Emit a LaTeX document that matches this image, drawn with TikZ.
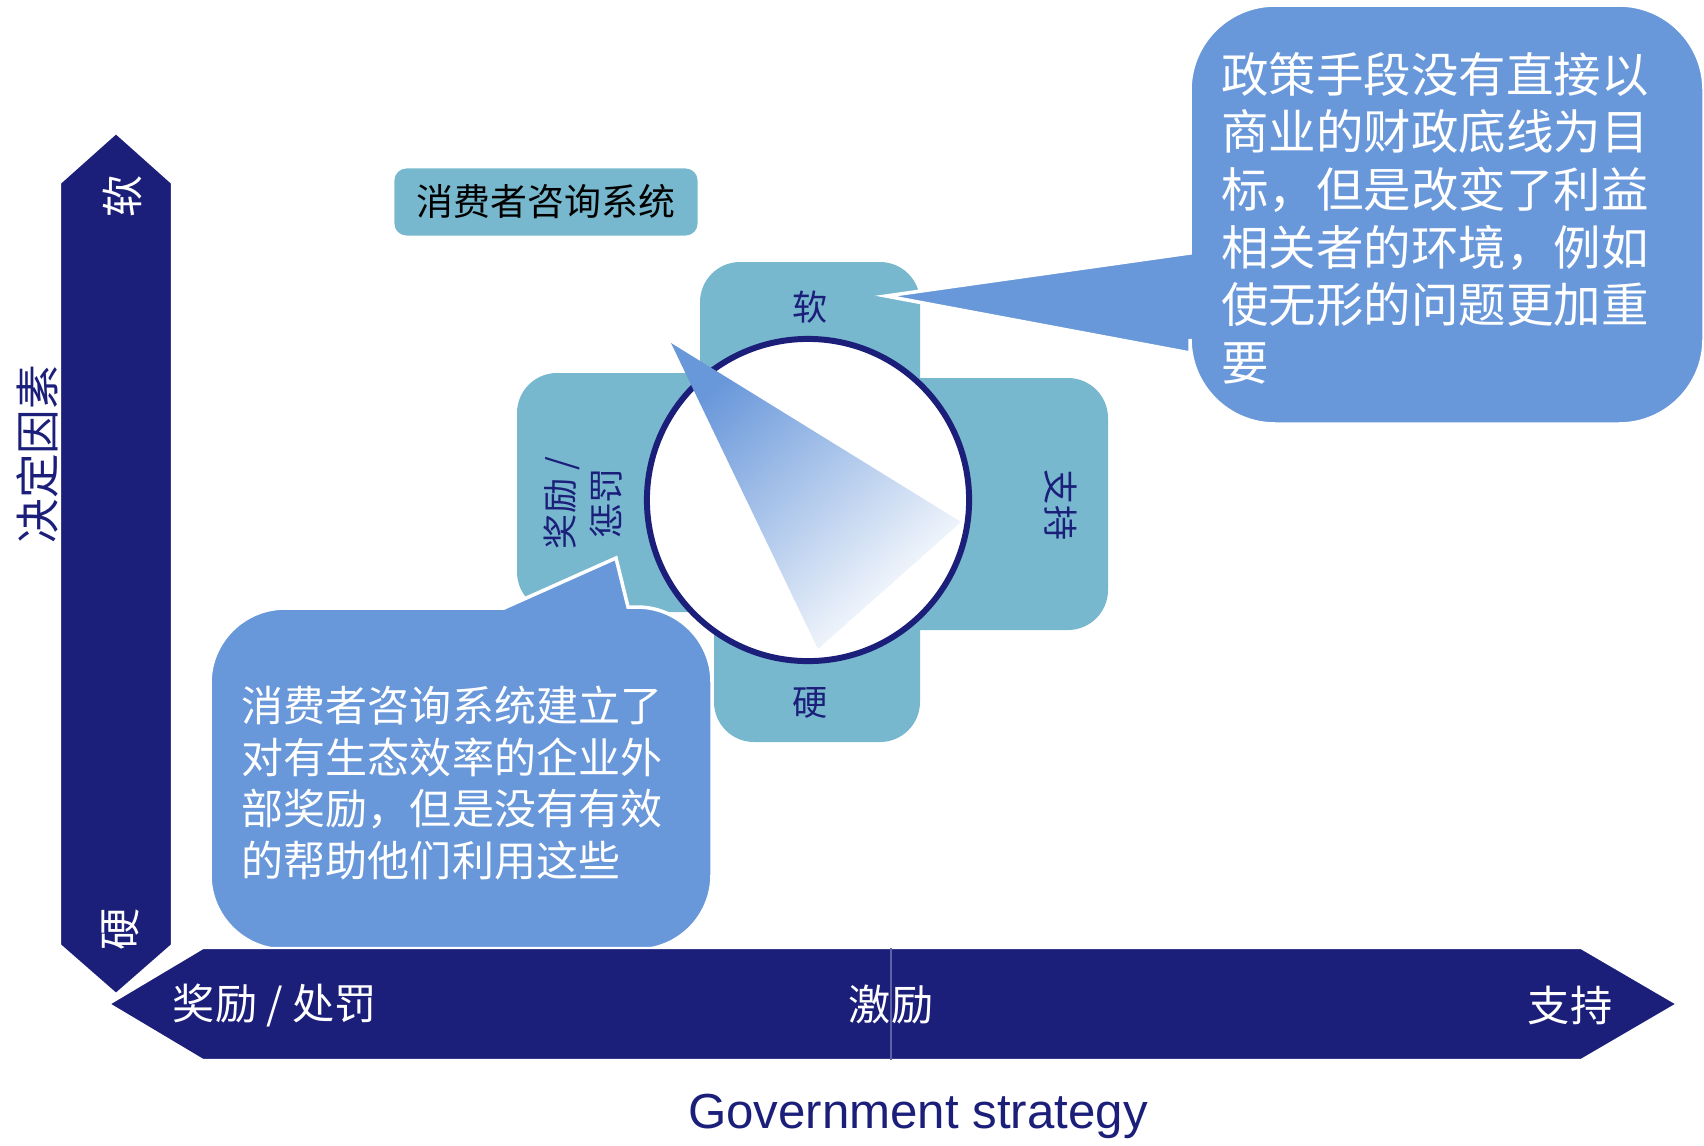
\documentclass[tikz,border=0pt]{standalone}
\usepackage{fontspec}
\newfontfamily\cjk{Noto Sans CJK SC}
\newfontfamily\lsans{Liberation Sans}
\usetikzlibrary{positioning}
\definecolor{navy}{HTML}{1B1F7A}
\definecolor{callblue}{HTML}{6897DA}
\definecolor{crossteal}{HTML}{77B8CE}

\begin{document}
\begin{tikzpicture}[
				x=0.01cm, y=-0.01cm,
				every node/.style={font=\cjk, inner sep=0pt},
				arm/.style={
					fill=crossteal,
					rounded corners=0.4cm
				},
				axisarrow/.style={
					fill=navy,
					draw=white,
					line width=0.6pt
				},
				axislabel/.style={text=white, font=\cjk\fontsize{12}{14}\selectfont},
				armlabel/.style={text=navy, font=\cjk\fontsize{10}{12.8}\selectfont},
				callout/.style={
					fill=callblue,
					draw=white,
					line width=1pt
				},
				calltext/.style={text=white, align=left}
				]
				\useasboundingbox (0,0) rectangle (1704,1145);
				
				\fill[arm] (700,262) rectangle (920,520);
				\fill[arm] (800,378) rectangle (1108,630);
				\fill[arm] (714,480) rectangle (920,742);
				\fill[arm] (517,373) rectangle (810,612);
				
				\node[fill=crossteal, rounded corners=0.12cm, minimum width=3.03cm,
				minimum height=0.67cm, font=\cjk\fontsize{10.5}{12}\selectfont]
				(consult) at (546,202) {消费者咨询系统};
				
				\node[circle, draw=navy, line width=1.7pt, fill=white,
				minimum size=3.22cm] (dial) at (808,500) {};
				\shade[left color=callblue, right color=white, shading angle=42]
				(671,343) -- (961,522) -- (818,649) -- cycle;
				
				\node[armlabel] (soft) at (810,307) {软};
				\node[armlabel, rotate=-90] (support) at (1061,505) {支持};
				\node[armlabel, rotate=90, align=center] (reward) at (583,503)
				{奖励 /\\惩罚};
				\node[armlabel] (hard) at (810,703) {硬};
				
				\draw[callout] (1190,353) -- (886,296) -- (1190,253)
				[rounded corners=0.85cm] -- (1190,5) -- (1704,5) -- (1704,424)
				-- (1190,424) [sharp corners] -- cycle;
				\node[calltext, font=\cjk\fontsize{13.5}{16.4}\selectfont]
				(policy) at (1435,218)
				{政策手段没有直接以\\商业的财政底线为目\\标，但是改变了利益\\相关者的环境，例如\\使无形的问题更加重\\要};
				
				\draw[callout] (628,607) -- (616,558) -- (504,608)
				[rounded corners=0.75cm] -- (210,608) -- (210,950) -- (712,950)
				-- (712,607) [sharp corners] -- cycle;
				\node[calltext, font=\cjk\fontsize{11.95}{14.65}\selectfont]
				(consumer) at (452,783)
				{消费者咨询系统建立了\\对有生态效率的企业外\\部奖励，但是没有有效\\的帮助他们利用这些};
				
				\path[axisarrow] (116,133) -- (172,183) -- (172,945) -- (116,994)
				-- (60,945) -- (60,183) -- cycle;
				\path[axisarrow] (109,1004) -- (203,948) -- (1581,948) -- (1677,1004)
				-- (1581,1060) -- (203,1060) -- cycle;
				\draw[white!30!navy, line width=0.4pt] (891,948) -- (891,1060);
				
				\node[axislabel, rotate=90] (vsoft) at (122,196) {软};
				\node[axislabel, rotate=90] (vhard) at (120,929) {硬};
				\node[rotate=90, text=navy, font=\cjk\fontsize{12.7}{14}\selectfont]
				(factor) at (37,454) {决定因素};
				\node[axislabel] (hreward) at (275,1005) {奖励 / 处罚};
				\node[axislabel] (hincent) at (891,1005) {激励};
				\node[axislabel] (hsupport) at (1570,1005) {支持};
				\node[text=navy, font=\lsans\fontsize{14}{16}\selectfont]
				(strategy) at (918,1116) {Government strategy};
			\end{tikzpicture}
\end{document}
